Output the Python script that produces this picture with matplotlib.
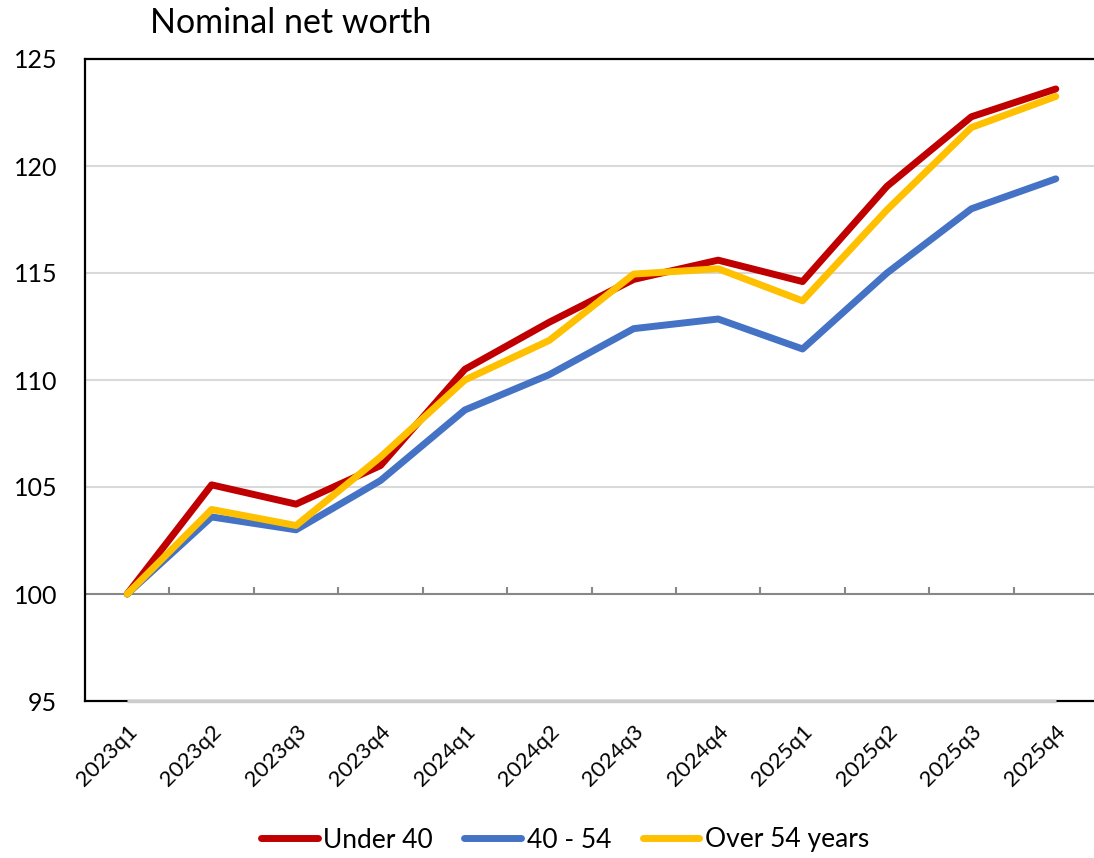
import numpy as np
import matplotlib.pyplot as plt

plt.rcParams['font.family'] = ['Lato', 'DejaVu Sans']

quarters = ['2023q1', '2023q2', '2023q3', '2023q4', '2024q1', '2024q2',
            '2024q3', '2024q4', '2025q1', '2025q2', '2025q3', '2025q4']
under_40 = [100, 105.1, 104.2, 106.0, 110.5, 112.7, 114.7, 115.6, 114.6, 119.05, 122.3, 123.6]
age_40_54 = [100, 103.6, 103.0, 105.3, 108.6, 110.25, 112.4, 112.85, 111.45, 115.0, 118.0, 119.4]
over_54 = [100, 103.95, 103.2, 106.4, 110.0, 111.85, 114.95, 115.2, 113.7, 117.95, 121.8, 123.25]

series = [('Under 40', under_40, '#C00000'),
          ('40 - 54', age_40_54, '#4472C4'),
          ('Over 54 years', over_54, '#FFC000')]

fig = plt.figure(figsize=(10.94, 8.58), dpi=100)
ax = fig.add_axes([85/1094, 1 - 701/858, (1098 - 85)/1094, (701 - 59)/858])

x = np.arange(len(quarters))
for name, vals, col in series:
    ax.plot(x, vals, color=col, linewidth=5, solid_capstyle='round',
            solid_joinstyle='round', label=name, zorder=3)

ax.set_xlim(-0.5, len(quarters) - 0.5)
ax.set_ylim(95, 125)
ax.set_yticks(np.arange(95, 126, 5))
for v in range(105, 126, 5):
    ax.axhline(v, color='#d9d9d9', linewidth=1.5, zorder=1)

# horizontal axis crossing at 100 with tick marks between categories
ax.axhline(100, color='#878787', linewidth=1.5, zorder=2)
ax.vlines(np.arange(-0.5, len(quarters), 1.0), 100, 100.33,
          color='#878787', linewidth=1.5, zorder=2)

# light line at 95 between first and last category
ax.plot([0, len(quarters) - 1], [95, 95], color='#cccccc', linewidth=2.5,
        zorder=4, clip_on=False, solid_capstyle='butt')

for s in ['left', 'top', 'bottom']:
    ax.spines[s].set_color('black')
    ax.spines[s].set_linewidth(1.6)
ax.spines['right'].set_visible(False)

ax.tick_params(axis='y', length=0, pad=20, labelsize=18)
ax.tick_params(axis='x', length=0, pad=15, labelsize=16)
ax.set_xticks(x)
ax.set_xticklabels(quarters, rotation=45, ha='right', rotation_mode='anchor')

fig.text(150/1094, 1 - 33/858, 'Nominal net worth', fontsize=24.5,
         ha='left', va='baseline')

fig.legend(loc='center', bbox_to_anchor=(565/1094, 1 - 840/858), ncol=3,
           frameon=False, fontsize=19, handlelength=2.15, handletextpad=0.2,
           columnspacing=1.2)

fig.savefig('out.png', dpi=100)
